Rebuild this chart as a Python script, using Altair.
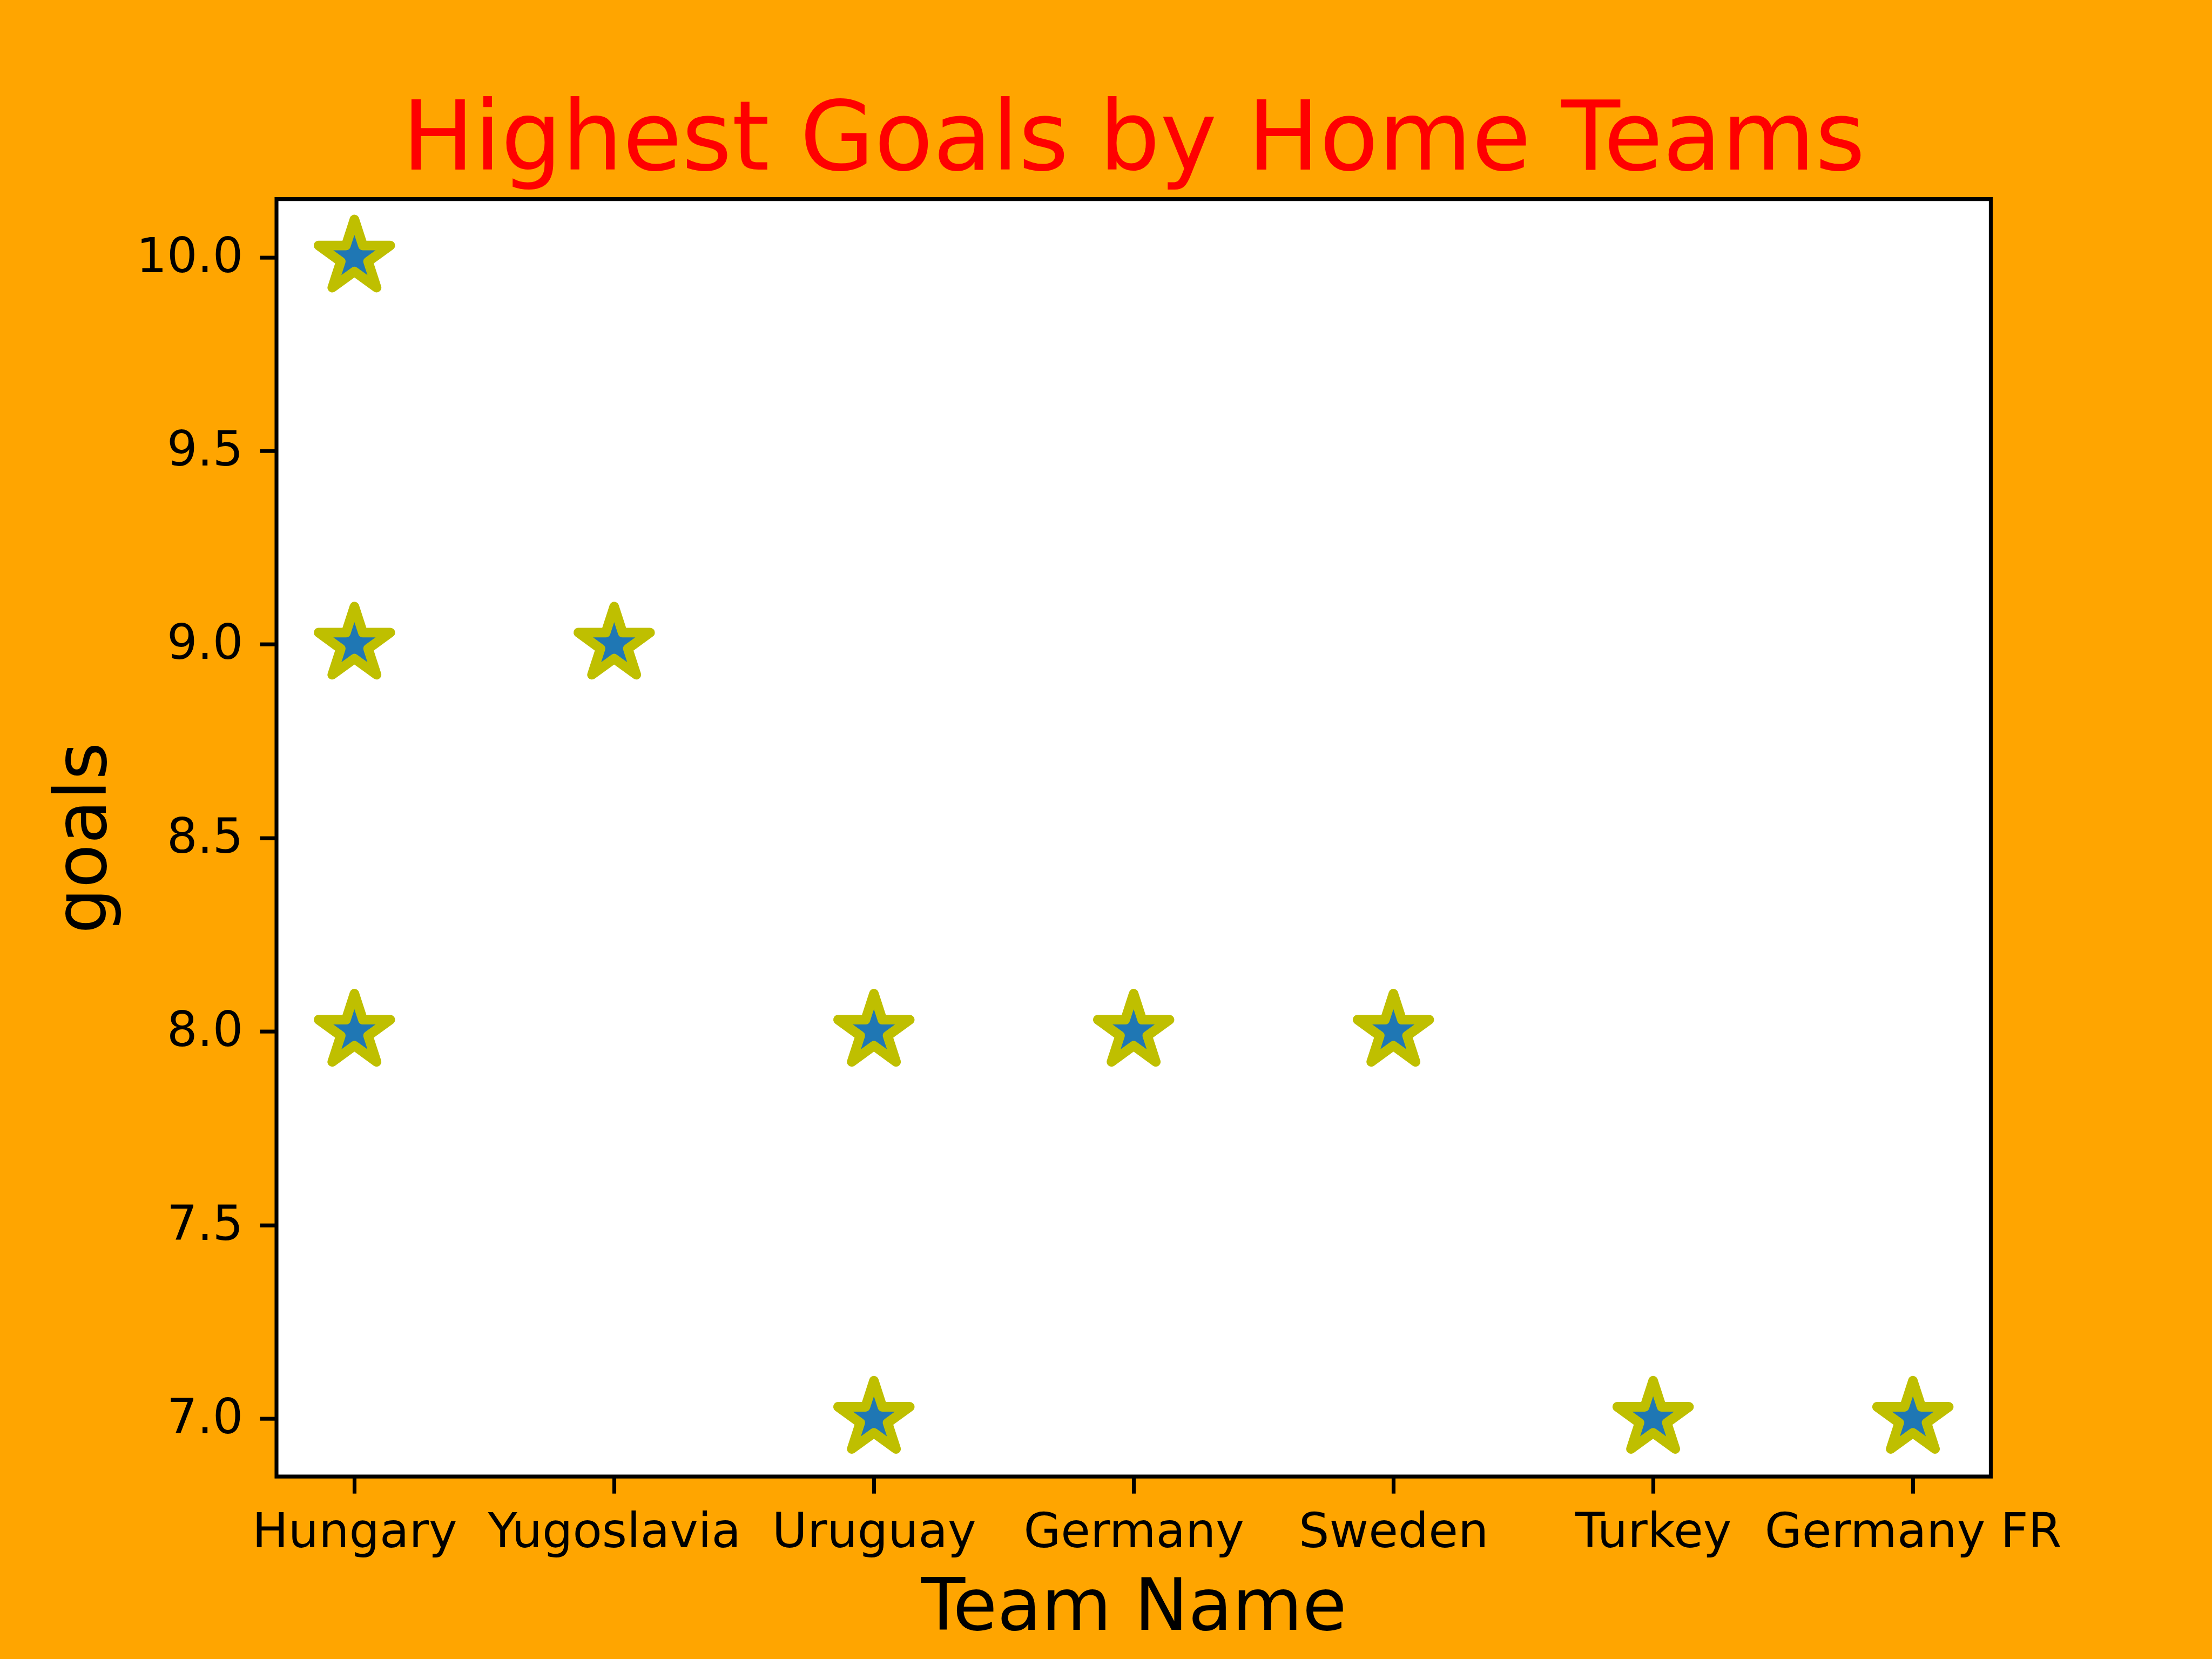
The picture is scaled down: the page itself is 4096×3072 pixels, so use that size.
import altair as alt
import pandas as pd

# ---- data ----
teams = ["Hungary", "Hungary", "Hungary", "Yugoslavia", "Uruguay", "Uruguay",
         "Germany", "Sweden", "Turkey", "Germany FR"]
goals = [10, 9, 8, 9, 8, 7, 8, 8, 7, 7]
team_order = ["Hungary", "Yugoslavia", "Uruguay", "Germany", "Sweden", "Turkey", "Germany FR"]
y_ticks = [7.0, 7.5, 8.0, 8.5, 9.0, 9.5, 10.0]

df = pd.DataFrame({"team": teams, "goals": goals})

# ---- styling (reference is 6400x4800 at dpi 1000, drawn at 0.64) ----
S = 0.64 * 1000 / 72  # px per point in the output
W = 3174.4
H = 2365.44
PAD_L, PAD_T, PAD_R, PAD_B = 512, 368.64, 409.6, 337.92

# five-pointed star (matplotlib '*' shape), unit outer radius
STAR_PATH = ("M0,-1 L0.2245,-0.309 L0.9511,-0.309 L0.3633,0.118 L0.5878,0.809 "
             "L0,0.382 L-0.5878,0.809 L-0.3633,0.118 L-0.9511,-0.309 L-0.2245,-0.309 Z")
STAR_RADIUS = 69.8  # output px

FONT = "DejaVu Sans"

chart = (
    alt.Chart(df)
    .mark_point(
        shape=STAR_PATH,
        filled=True,
        fill="#1f77b4",
        stroke="#bfbf00",
        strokeWidth=2 * S,
        strokeJoin="round",
        opacity=1,
        fillOpacity=1,
        strokeOpacity=1,
        size=(2 * STAR_RADIUS) ** 2,
    )
    .encode(
        x=alt.X(
            "team:N",
            sort=team_order,
            scale=alt.Scale(type="point", padding=0.3),
            axis=alt.Axis(
                title="Team Name",
                labelAngle=0,
                labelOverlap=False,
                labelFlush=False,
                labelLimit=0,
                labelFont=FONT,
                labelFontSize=10 * S,
                labelColor="black",
                labelPadding=29,
                tickColor="black",
                tickWidth=0.8 * S,
                tickSize=3.5 * S,
                domain=False,
                grid=False,
                titleFont=FONT,
                titleFontSize=15 * S,
                titleFontWeight="normal",
                titleColor="black",
                titleX=W / 2,
                titleY=283,
                titleAlign="center",
                titleBaseline="alphabetic",
                titleLimit=0,
            ),
        ),
        y=alt.Y(
            "goals:Q",
            scale=alt.Scale(domain=[6.85, 10.15], nice=False, zero=False),
            axis=alt.Axis(
                title="goals",
                values=y_ticks,
                format=".1f",
                labelLimit=0,
                labelFont=FONT,
                labelFontSize=10 * S,
                labelColor="black",
                labelPadding=3.5 * S,
                tickColor="black",
                tickWidth=0.8 * S,
                tickSize=3.5 * S,
                domain=False,
                grid=False,
                titleFont=FONT,
                titleFontSize=15 * S,
                titleFontWeight="normal",
                titleColor="black",
                titleAngle=270,
                titleX=-317,
                titleY=H / 2,
                titleAlign="center",
                titleBaseline="alphabetic",
                titleLimit=0,
            ),
        ),
    )
    .properties(
        width=W,
        height=H,
        title=alt.TitleParams(
            text="Highest Goals by Home Teams",
            font=FONT,
            fontSize=20 * S,
            fontWeight="normal",
            color="#FF0000",
            anchor="middle",
            frame="group",
            baseline="alphabetic",
            offset=48,
            dy=171,
            limit=0,
        ),
        background="#FFA500",
        padding={"left": PAD_L, "top": PAD_T, "right": PAD_R, "bottom": PAD_B},
        autosize=alt.AutoSizeParams(type="none"),
    )
    .configure_view(fill="white", stroke="black", strokeWidth=0.8 * S)
)

chart.save("out.html", embed_options={"renderer": "svg", "actions": False})
